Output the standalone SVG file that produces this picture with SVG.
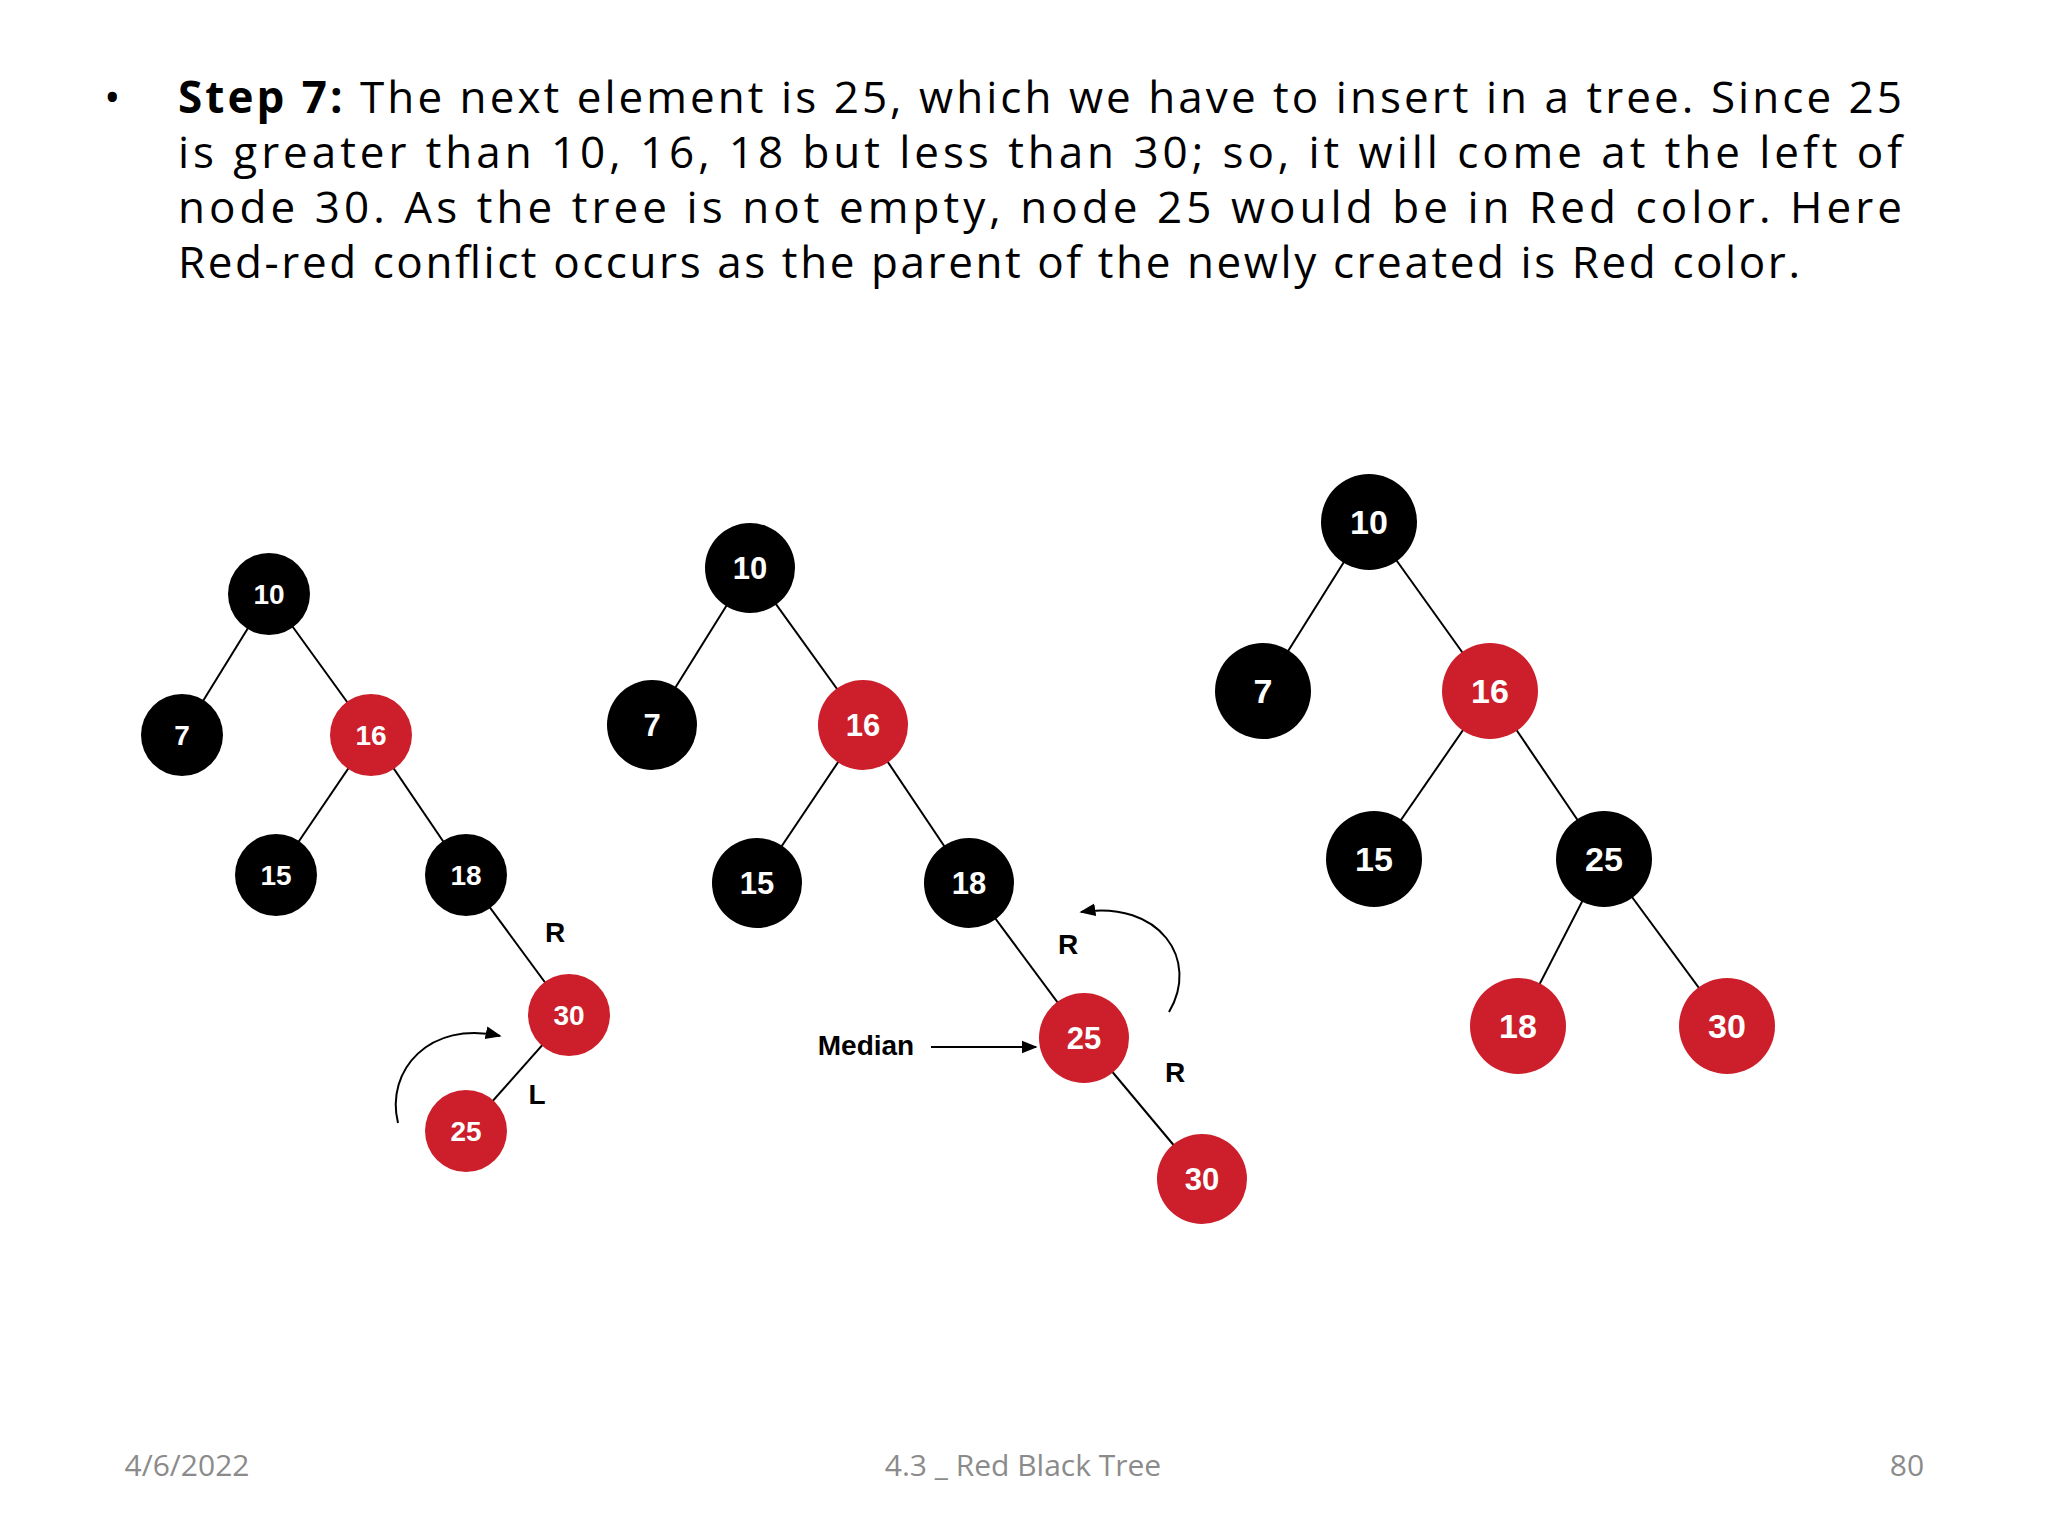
<svg xmlns="http://www.w3.org/2000/svg" width="2048" height="1536" viewBox="0 0 2048 1536">
<defs>
<style>
.t{font-family:"Open Sans","Liberation Sans",sans-serif;font-size:44px;fill:#000}
.b{fill:#000}.r{fill:#cc1f2b}
.n text{font-family:"Liberation Sans",Arial,sans-serif;font-weight:bold;fill:#fff;text-anchor:middle;dominant-baseline:central}
.e line,.e path{stroke:#000;stroke-width:2;fill:none}
.lb{font-family:"Liberation Sans",Arial,sans-serif;font-weight:bold;font-size:28px;fill:#000;text-anchor:middle;dominant-baseline:central}
.f{font-family:"Open Sans","Liberation Sans",sans-serif;font-size:30px;fill:#8b8b8b;text-anchor:middle}
</style>
<marker id="a" viewBox="0 0 10 10" refX="9" refY="5" markerWidth="8" markerHeight="8" orient="auto"><path d="M0,1 L10,5 L0,9 z" fill="#000"/></marker>
</defs>
<rect width="2048" height="1536" fill="#fff"/>
<g id="text">
<text x="104" y="113" class="t">•</text>
<text x="178" y="113" class="t" textLength="1724" lengthAdjust="spacing"><tspan font-weight="bold">Step 7:</tspan> The next element is 25, which we have to insert in a tree. Since 25</text>
<text x="178" y="168" class="t" textLength="1724" lengthAdjust="spacing">is greater than 10, 16, 18 but less than 30; so, it will come at the left of</text>
<text x="178" y="223" class="t" textLength="1724" lengthAdjust="spacing">node 30. As the tree is not empty, node 25 would be in Red color. Here</text>
<text x="178" y="278" class="t" textLength="1622" lengthAdjust="spacing">Red-red conflict occurs as the parent of the newly created is Red color.</text>
</g>
<g id="connectors" class="e">
<line x1="269" y1="594" x2="182" y2="735"/><line x1="269" y1="594" x2="371" y2="735"/>
<line x1="371" y1="735" x2="276" y2="875"/><line x1="371" y1="735" x2="466" y2="875"/>
<line x1="466" y1="875" x2="569" y2="1015"/><line x1="569" y1="1015" x2="466" y2="1131"/>
<path d="M398,1123 C385,1070 430,1020 500,1036" marker-end="url(#a)"/>
<line x1="750" y1="568" x2="652" y2="725"/><line x1="750" y1="568" x2="863" y2="725"/>
<line x1="863" y1="725" x2="757" y2="883"/><line x1="863" y1="725" x2="969" y2="883"/>
<line x1="969" y1="883" x2="1084" y2="1038"/><line x1="1084" y1="1038" x2="1202" y2="1179"/>
<line x1="931" y1="1047" x2="1036" y2="1047" marker-end="url(#a)"/>
<path d="M1169,1012 C1200,960 1160,900 1081,912" marker-end="url(#a)"/>
<line x1="1369" y1="522" x2="1263" y2="691"/><line x1="1369" y1="522" x2="1490" y2="691"/>
<line x1="1490" y1="691" x2="1374" y2="859"/><line x1="1490" y1="691" x2="1604" y2="859"/>
<line x1="1604" y1="859" x2="1518" y2="1026"/><line x1="1604" y1="859" x2="1727" y2="1026"/>
</g>
<g id="labels">
<text x="555" y="932" class="lb">R</text><text x="537" y="1094" class="lb">L</text>
<text x="866" y="1045" class="lb">Median</text>
<text x="1068" y="944" class="lb">R</text><text x="1175" y="1072" class="lb">R</text>
</g>
<g id="tree1" class="n" font-size="28">
<g id="t1n10"><circle cx="269" cy="594" r="41" class="b"/><text x="269" y="594">10</text></g>
<g id="t1n7"><circle cx="182" cy="735" r="41" class="b"/><text x="182" y="735">7</text></g>
<g id="t1n16"><circle cx="371" cy="735" r="41" class="r"/><text x="371" y="735">16</text></g>
<g id="t1n15"><circle cx="276" cy="875" r="41" class="b"/><text x="276" y="875">15</text></g>
<g id="t1n18"><circle cx="466" cy="875" r="41" class="b"/><text x="466" y="875">18</text></g>
<g id="t1n30"><circle cx="569" cy="1015" r="41" class="r"/><text x="569" y="1015">30</text></g>
<g id="t1n25"><circle cx="466" cy="1131" r="41" class="r"/><text x="466" y="1131">25</text></g>
</g>
<g id="tree2" class="n" font-size="31">
<g id="t2n10"><circle cx="750" cy="568" r="45" class="b"/><text x="750" y="568">10</text></g>
<g id="t2n7"><circle cx="652" cy="725" r="45" class="b"/><text x="652" y="725">7</text></g>
<g id="t2n16"><circle cx="863" cy="725" r="45" class="r"/><text x="863" y="725">16</text></g>
<g id="t2n15"><circle cx="757" cy="883" r="45" class="b"/><text x="757" y="883">15</text></g>
<g id="t2n18"><circle cx="969" cy="883" r="45" class="b"/><text x="969" y="883">18</text></g>
<g id="t2n25"><circle cx="1084" cy="1038" r="45" class="r"/><text x="1084" y="1038">25</text></g>
<g id="t2n30"><circle cx="1202" cy="1179" r="45" class="r"/><text x="1202" y="1179">30</text></g>
</g>
<g id="tree3" class="n" font-size="34">
<g id="t3n10"><circle cx="1369" cy="522" r="48" class="b"/><text x="1369" y="522">10</text></g>
<g id="t3n7"><circle cx="1263" cy="691" r="48" class="b"/><text x="1263" y="691">7</text></g>
<g id="t3n16"><circle cx="1490" cy="691" r="48" class="r"/><text x="1490" y="691">16</text></g>
<g id="t3n15"><circle cx="1374" cy="859" r="48" class="b"/><text x="1374" y="859">15</text></g>
<g id="t3n25"><circle cx="1604" cy="859" r="48" class="b"/><text x="1604" y="859">25</text></g>
<g id="t3n18"><circle cx="1518" cy="1026" r="48" class="r"/><text x="1518" y="1026">18</text></g>
<g id="t3n30"><circle cx="1727" cy="1026" r="48" class="r"/><text x="1727" y="1026">30</text></g>
</g>
<g id="footer">
<text x="187" y="1476" class="f">4/6/2022</text>
<text x="1023" y="1476" class="f">4.3 _ Red Black Tree</text>
<text x="1907" y="1476" class="f">80</text>
</g>
</svg>
